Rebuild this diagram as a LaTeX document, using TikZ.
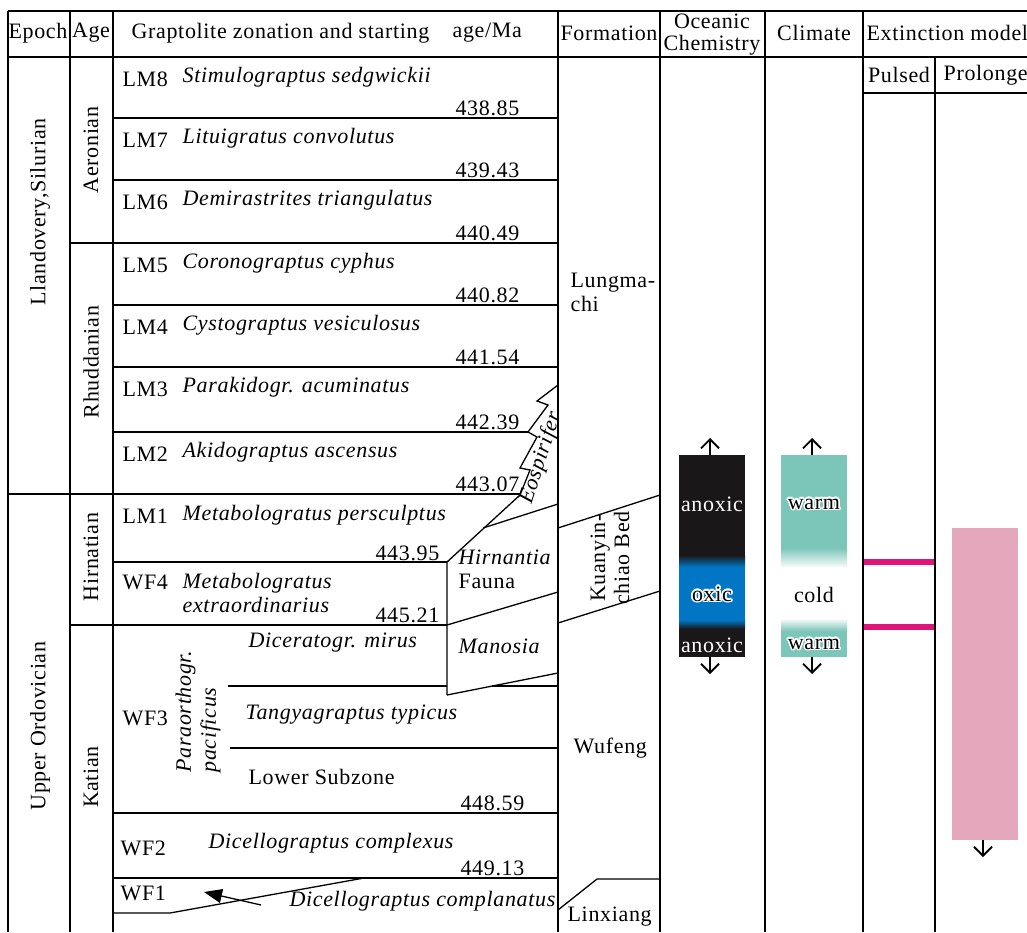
\documentclass[tikz,border=0pt]{standalone}
\usepackage{fontspec}
\setmainfont{Liberation Serif}[LetterSpace=3]
\usepackage[copies]{contour}
\contourlength{0.8pt}
\usetikzlibrary{arrows.meta}
\definecolor{anox}{RGB}{26,23,24}
\definecolor{oxic}{RGB}{0,118,196}
\definecolor{warmc}{RGB}{124,197,185}
\definecolor{pulse}{RGB}{222,20,122}
\definecolor{prolong}{RGB}{228,167,188}

\begin{document}
\begin{tikzpicture}[x=0.5pt, y=-0.5pt, line width=0.65pt,
  font=\fontsize{11}{12}\selectfont,
  txt/.style={inner sep=0pt},
  code/.style={txt, anchor=west},
  taxon/.style={txt, anchor=west, font=\fontsize{11}{12}\selectfont\itshape},
  age/.style={txt, anchor=east},
  upright/.style={txt, rotate=90},
  trend/.style={-{Straight Barb[length=4.5pt,width=9pt,line width=0.9pt]}, line width=0.9pt}]
  \useasboundingbox (0,0) rectangle (1027,932);
  % frame + columns
  \draw (8,11) -- (1027,11);
  \draw (8,57) -- (1027,57);
  \draw (863,93) -- (1027,93);
  \foreach \x in {8,70,113,558,660,765,863} \draw (\x,11) -- (\x,932);
  \draw (935,57) -- (935,932);
  % headers
  \node[txt] (hEpoch) at (38,33) {Epoch};
  \node[txt] (hAge) at (91,33) {Age};
  \node[code] (hZone) at (131,33) {Graptolite zonation and starting};
  \node[code] (hMa) at (452,33) {age/Ma};
  \node[txt] (hForm) at (609,33) {Formation};
  \node[txt, align=center, font=\fontsize{11}{11}\selectfont] (hChem) at (712,35) {Oceanic\\Chemistry};
  \node[txt] (hClim) at (814,33) {Climate};
  \node[code] (hExt) at (866,33) {Extinction model};
  \node[txt] (hPulse) at (899,75) {Pulsed};
  \node[code] (hProl) at (943,75) {Prolonged};
  % epoch + age
  \draw (8,494) -- (520,494);
  \draw (70,243) -- (558,243);
  \draw (70,625) -- (447,625);
  \node[upright] (llan) at (40,212) {Llandovery,Silurian};
  \node[upright] (uord) at (40,726) {Upper Ordovician};
  \node[upright] (aero) at (91,150) {Aeronian};
  \node[upright] (rhud) at (91,362) {Rhuddanian};
  \node[upright] (hirn) at (91,557) {Hirnatian};
  \node[upright] (kati) at (91,777) {Katian};
  % graptolite zones
  \foreach \y in {118,180,305,367,813,878} \draw (113,\y) -- (558,\y);
  \draw (113,432) -- (528,432);
  \draw (113,562) -- (447,562);
  \draw (228,686) -- (447,686) (492,686) -- (558,686);
  \draw (230,748) -- (558,748);
  \draw (113,913) -- (170,913) -- (364,878);
  \foreach \c/\t/\b/\sp/\ma in {LM8/57/118/Stimulograptus sedgwickii/438.85,
      LM7/118/180/Lituigratus convolutus/439.43,
      LM6/180/243/Demirastrites triangulatus/440.49,
      LM5/243/305/Coronograptus cyphus/440.82,
      LM4/305/367/Cystograptus vesiculosus/441.54,
      LM3/367/432/Parakidogr. acuminatus/442.39,
      LM2/432/494/Akidograptus ascensus/443.07} {
    \node[code] (code\c) at (122,\t+22) {\c};
    \node[taxon] (taxon\c) at (182,\t+20) {\sp};
    \node[age] (ma\c) at (520,\b-10) {\ma};
  }
  \node[code] (codeLM1) at (122,516) {LM1};
  \node[taxon] (taxonLM1) at (182,515) {Metabologratus persculptus};
  \node[age] (maLM1) at (440,553) {443.95};
  \node[code] (codeWF4) at (122,582) {WF4};
  \node[taxon, align=left] (taxonWF4) at (182,593) {Metabologratus\\extraordinarius};
  \node[age] (maWF4) at (440,615) {445.21};
  \node[code] (codeWF3) at (122,718) {WF3};
  \node[upright, anchor=west, align=left, font=\fontsize{11}{12.5}\selectfont\itshape] (taxonWF3) at (198,773) {Paraorthogr.\\pacificus};
  \node[taxon] (subWF3a) at (248,643) {Diceratogr. mirus};
  \node[taxon] (subWF3b) at (245,715) {Tangyagraptus typicus};
  \node[code] (subWF3c) at (248,777) {Lower Subzone};
  \node[age] (maWF3) at (525,803) {448.59};
  \node[code] (codeWF2) at (120,848) {WF2};
  \node[taxon] (taxonWF2) at (208,843) {Dicellograptus complexus};
  \node[age] (maWF2) at (525,868) {449.13};
  \node[code] (codeWF1) at (120,893) {WF1};
  \node[taxon, anchor=east] (taxonWF1) at (556,901) {Dicellograptus complanatus};
  \coordinate (wfTail) at (261,905);
  \coordinate (wfTip) at (204,892);
  \draw[-{Triangle[length=9pt,width=7pt]}] (wfTail) -- (wfTip);
  % formation column
  \draw (558,385) -- (537,401) -- (548,405) -- (528,432) -- (537,437) -- (520,468)
    -- (530,470) -- (520,495) -- (447,562) -- (447,695);
  \draw (483,528) -- (558,504);
  \draw (447,625) -- (558,592);
  \draw (447,695) -- (558,673);
  \draw (558,528) -- (660,495);
  \draw (558,623) -- (660,591);
  \draw (558,910) -- (597,879) -- (660,879);
  \node[txt, rotate=72, font=\fontsize{11}{12}\selectfont\itshape] (eosp) at (541,458) {Eospirifer};
  \node[code, align=left] (lung) at (570,292) {Lungma-\\chi};
  \node[taxon] (hirnF) at (458,557) {Hirnantia};
  \node[code] (faun) at (458,581) {Fauna};
  \node[taxon] (mano) at (458,646) {Manosia};
  \node[upright, align=center] (kuan) at (610,558) {Kuanyin-\\chiao Bed};
  \node[code] (wufe) at (573,748) {Wufeng};
  \node[code] (linx) at (567,917) {Linxiang};
  % oceanic chemistry bar
  \fill[anox] (679,455) rectangle (745,555);
  \shade[top color=anox, bottom color=oxic] (679,555) rectangle (745,567);
  \fill[oxic] (679,567) rectangle (745,620);
  \shade[top color=oxic, bottom color=anox] (679,620) rectangle (745,629);
  \fill[anox] (679,629) rectangle (745,657);
  \node[txt, text=white] (anoxTop) at (712,504) {anoxic};
  \node[txt] (oxicMid) at (712,595) {\contour{white}{oxic}};
  \node[txt, text=white] (anoxBot) at (712,645) {anoxic};
  \coordinate (chemTop) at (710,455);
  \coordinate (chemUp) at (710,438);
  \coordinate (chemBot) at (710,657);
  \coordinate (chemDown) at (710,674);
  \draw[trend] (chemTop) -- (chemUp);
  \draw[trend] (chemBot) -- (chemDown);
  % climate bar
  \fill[warmc] (781,455) rectangle (847,548);
  \shade[top color=warmc, bottom color=white] (781,548) rectangle (847,568);
  \shade[top color=white, bottom color=warmc] (781,618) rectangle (847,631);
  \fill[warmc] (781,631) rectangle (847,657);
  \node[txt] (warmTop) at (814,505) {\contour{white}{warm}};
  \node[txt] (cold) at (814,595) {cold};
  \node[txt] (warmBot) at (814,645) {\contour{white}{warm}};
  \coordinate (climTop) at (812,455);
  \coordinate (climUp) at (812,438);
  \coordinate (climBot) at (812,657);
  \coordinate (climDown) at (812,674);
  \draw[trend] (climTop) -- (climUp);
  \draw[trend] (climBot) -- (climDown);
  % extinction model
  \draw[pulse, line width=3pt] (864,562) -- (934,562);
  \draw[pulse, line width=3pt] (864,627) -- (934,627);
  \fill[prolong] (952,528) rectangle (1018,840);
  \coordinate (prolBot) at (983,840);
  \coordinate (prolDown) at (983,857);
  \draw[trend] (prolBot) -- (prolDown);
\end{tikzpicture}
\end{document}
